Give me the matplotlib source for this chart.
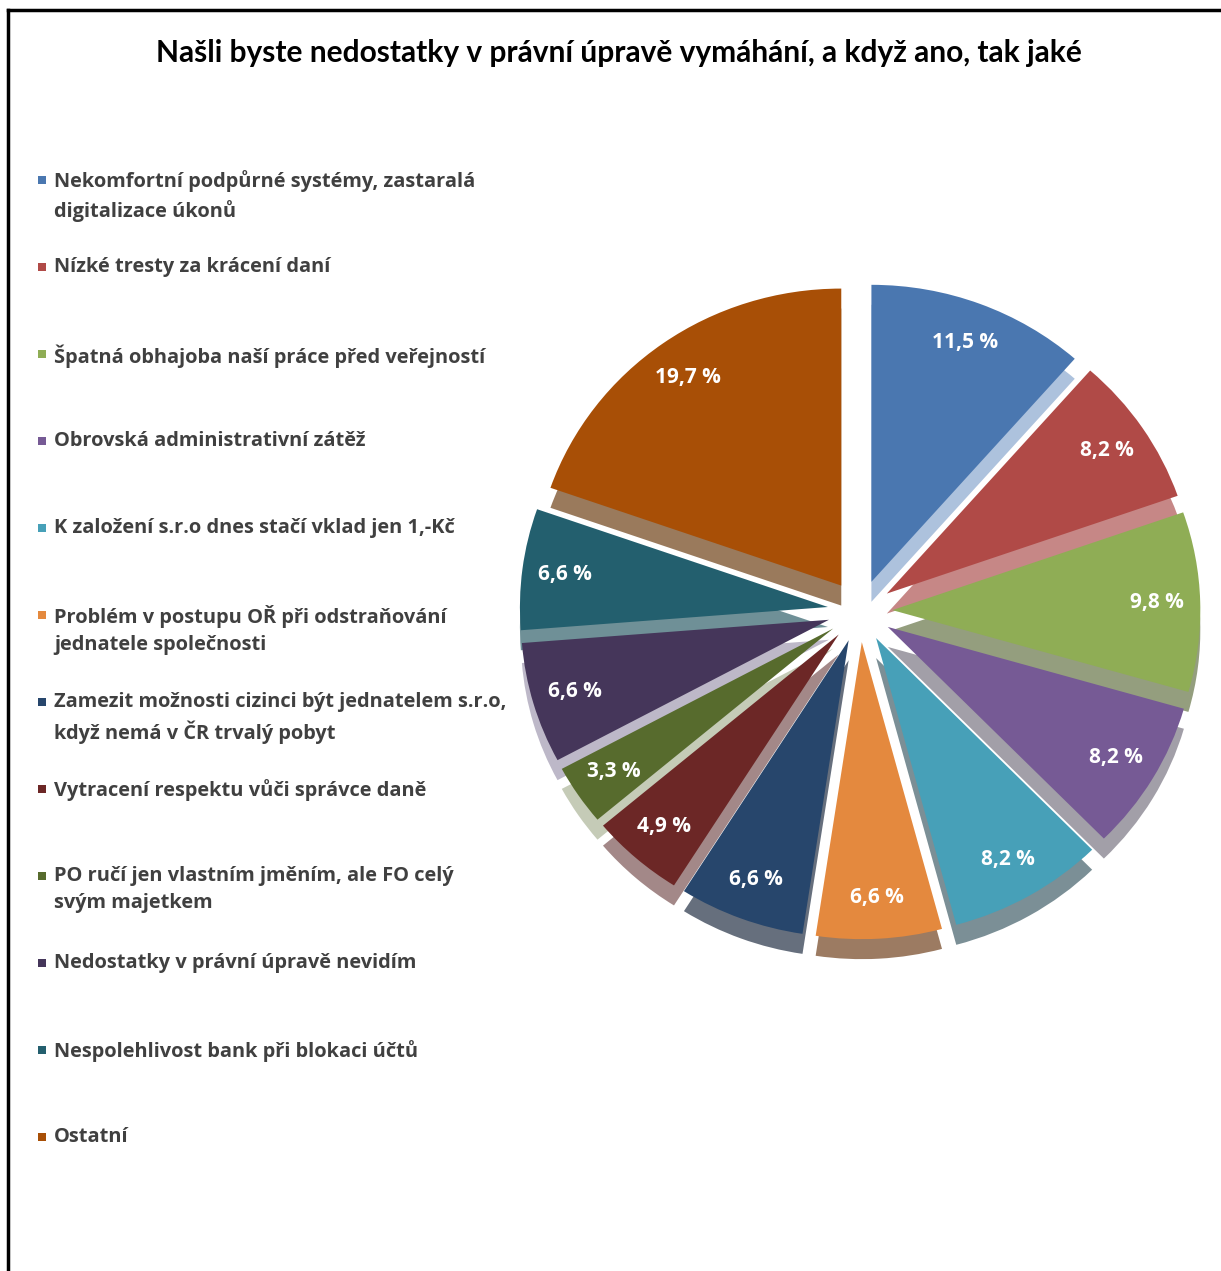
import matplotlib
matplotlib.use('Agg')
import matplotlib.pyplot as plt
from matplotlib.lines import Line2D
from matplotlib.patches import Rectangle

W, H = 1221, 1271

title = 'Našli byste nedostatky v právní úpravě vymáhání, a když ano, tak jaké'
categories = [
    'Nekomfortní podpůrné systémy, zastaralá\ndigitalizace úkonů',
    'Nízké tresty za krácení daní',
    'Špatná obhajoba naší práce před veřejností',
    'Obrovská administrativní zátěž',
    'K založení s.r.o dnes stačí vklad jen 1,-Kč',
    'Problém v postupu OŘ při odstraňování\njednatele společnosti',
    'Zamezit možnosti cizinci být jednatelem s.r.o,\nkdyž nemá v ČR trvalý pobyt',
    'Vytracení respektu vůči správce daně',
    'PO ručí jen vlastním jměním, ale FO celý\nsvým majetkem',
    'Nedostatky v právní úpravě nevidím',
    'Nespolehlivost bank při blokaci účtů',
    'Ostatní',
]
shares = [11.5, 8.2, 9.8, 8.2, 8.2, 6.6, 6.6, 4.9, 3.3, 6.6, 6.6, 19.7]

colors = ['#4a77b0', '#b04a47', '#8fad55', '#765a95', '#47a0b8', '#e4893e',
          '#27466c', '#6c2726', '#576b2d', '#45365a', '#235f6e', '#a84f06']
# 3D side colours (as lit in the original)
sides = ['#adc2dd', '#c68786', '#949e7e', '#a29fa8', '#7b8f96', '#9c7b62',
         '#666f7d', '#a38888', '#c5cbb7', '#bdb8c8', '#6f9097', '#9a7a5c']

font = ['Open Sans', 'DejaVu Sans']


def px(x, y):
    return x / W, 1 - y / H


fig = plt.figure(figsize=(W / 100, H / 100), dpi=100)
fig.patch.set_facecolor('white')

# pie axes: 1 unit = 308 px horizontally, 297 px vertically (tilted look)
rx, ry = 308, 297
cx, cy = 860, 611
ext = 1.3
l, b = px(cx - ext * rx, cy + ext * ry)
ax = fig.add_axes([l, b, 2 * ext * rx / W, 2 * ext * ry / H])

explode = [0.105] * len(shares)
depth = 20 / ry

ax.pie(shares, colors=sides, startangle=90, counterclock=False,
       explode=explode, center=(0, -depth), radius=1,
       wedgeprops=dict(linewidth=0))

wedges, texts, autotexts = ax.pie(
    shares, colors=colors, startangle=90, counterclock=False,
    explode=explode, center=(0, 0), radius=1,
    autopct=lambda p: f'{p:.1f} %'.replace('.', ','), pctdistance=0.86,
    wedgeprops=dict(linewidth=0),
    textprops=dict(color='white', fontsize=15, fontweight='bold', family=font))

ax.set_aspect('auto')
ax.set_xlim(-ext, ext)
ax.set_ylim(-ext, ext)
ax.axis('off')

# title
fig.text(*px(619, 53), title, ha='center', va='center', fontsize=21.5,
         fontweight='bold', color='black', family=['Lato', 'DejaVu Sans'])

# legend, one slot of 87 px per entry
for i, (lab, col) in enumerate(zip(categories, colors)):
    y = 180 + 87 * i
    fig.add_artist(Rectangle(px(38, y + 4), 8 / W, 8 / H, transform=fig.transFigure,
                             facecolor=col, edgecolor='none'))
    fig.text(*px(54, y - 10), lab, ha='left', va='top', fontsize=14.4,
             fontweight='bold', color='#404040', family=font, linespacing=1.45)

# frame lines (top and left)
fig.add_artist(Line2D([8 / W, 1], [1 - 10 / H] * 2, transform=fig.transFigure,
                      color='black', lw=2.5))
fig.add_artist(Line2D([8 / W] * 2, [0, 1 - 10 / H], transform=fig.transFigure,
                      color='black', lw=2.5))

fig.savefig('out.png', dpi=100)
